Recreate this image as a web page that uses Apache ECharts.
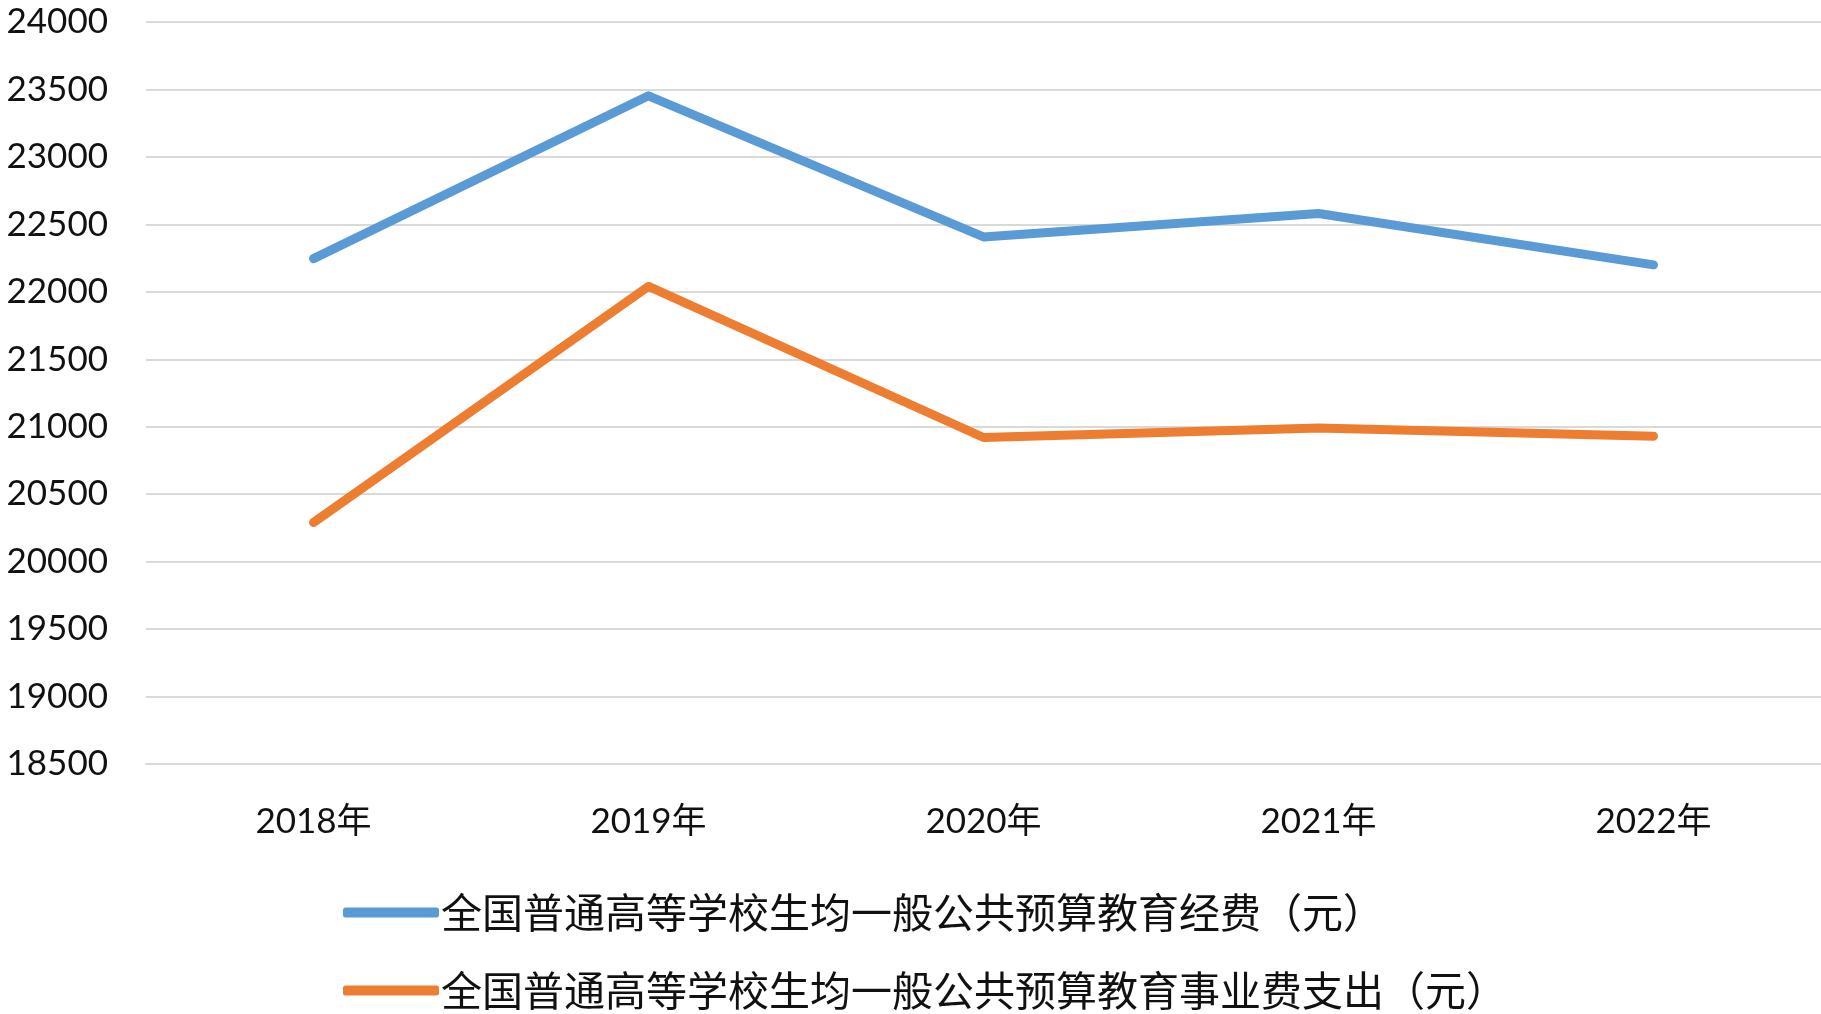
<!DOCTYPE html>
<html>
<head>
<meta charset="utf-8">
<script src="https://cdn.jsdelivr.net/npm/echarts@6/dist/echarts.min.js"></script>
<style>
html,body{margin:0;padding:0;background:#fff;}
#chart{width:1821px;height:1014px;}
</style>
</head>
<body>
<div id="chart"></div>
<script>
const categories = ['2018年', '2019年', '2020年', '2021年', '2022年'];
const seriesNames = ['全国普通高等学校生均一般公共预算教育经费（元）', '全国普通高等学校生均一般公共预算教育事业费支出（元）'];
const fundValues = [22246, 23453, 22407, 22580, 22200];
const expenseValues = [20290, 22040, 20920, 20990, 20930];
const yMin = 18500, yMax = 24000, yStep = 500;

const chart = echarts.init(document.getElementById('chart'));
const numFont = 'Lato, "Noto Sans", "Noto Sans CJK SC", sans-serif';
const legendBase = {
  orient: 'horizontal',
  left: 338,
  itemWidth: 96,
  itemHeight: 10,
  icon: 'roundRect',
  textStyle: { color: '#111', fontSize: 41, lineHeight: 41, fontFamily: '"Noto Sans CJK SC", sans-serif', padding: [0, 0, 0, -3] }
};
chart.setOption({
  animation: false,
  backgroundColor: '#ffffff',
  grid: { left: 146, right: 0, top: 22, bottom: 250, containLabel: false },
  xAxis: {
    type: 'category',
    data: categories,
    boundaryGap: true,
    axisLine: { show: true, lineStyle: { color: '#D9D9D9', width: 2 } },
    axisTick: { show: false },
    axisLabel: { color: '#111', fontSize: 35, fontFamily: numFont, margin: 40 }
  },
  yAxis: {
    type: 'value',
    min: yMin, max: yMax, interval: yStep,
    axisLine: { show: false },
    axisTick: { show: false },
    splitLine: { lineStyle: { color: '#D9D9D9', width: 2 } },
    axisLabel: { color: '#111', fontSize: 35, fontFamily: numFont, margin: 38, formatter: v => String(v) }
  },
  legend: [
    Object.assign({}, legendBase, { top: 887, data: [seriesNames[0]] }),
    Object.assign({}, legendBase, { top: 965, data: [seriesNames[1]] })
  ],
  series: [
    {
      name: seriesNames[0], type: 'line', data: fundValues,
      symbol: 'none', color: '#5B9BD5',
      lineStyle: { width: 9, color: '#5B9BD5', cap: 'round', join: 'round' }
    },
    {
      name: seriesNames[1], type: 'line', data: expenseValues,
      symbol: 'none', color: '#ED7D31',
      lineStyle: { width: 9, color: '#ED7D31', cap: 'round', join: 'round' }
    }
  ]
});
</script>
</body>
</html>
